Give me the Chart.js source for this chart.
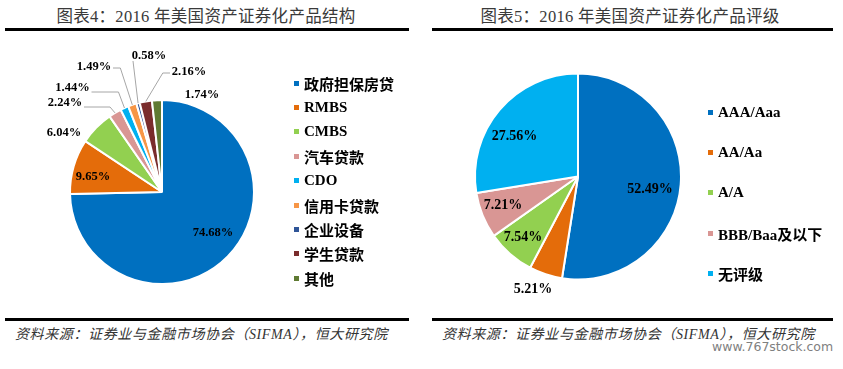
<!DOCTYPE html>
<html>
<head>
<meta charset="utf-8">
<script src="https://cdn.jsdelivr.net/npm/chart.js@4.4.1/dist/chart.umd.min.js"></script>
<style>
  body { margin: 0; background: #fff; }
  #page { position: relative; width: 843px; height: 369px; overflow: hidden; }
  .title { position: absolute; top: 8px; height: 18px; line-height: 18px; text-align: center;
           font-family: "Liberation Serif", "Noto Sans CJK SC", serif; font-size: 16.5px; color: #3a3a3a; letter-spacing: 0.3px; }
  .rule { position: absolute; height: 3px; background: #000; }
  .source { position: absolute; top: 327px; line-height: 16px; font-size: 14px; letter-spacing: 0.62px;
            font-family: "Liberation Serif", "Noto Sans CJK SC", serif; font-style: italic; color: #333; white-space: nowrap; }
  .mark { position: absolute; left: 712px; top: 339px; font-family: "DejaVu Sans", sans-serif; font-size: 12.5px; color: #808080; }
  canvas { position: absolute; }
  ul.legend { position: absolute; margin: 0; padding: 0; list-style: none;
              font-family: "Liberation Serif", "Noto Sans CJK SC", serif; font-weight: bold; font-size: 15px; color: #000; }
  ul.legend li { display: flex; align-items: center; white-space: nowrap; }
  ul.legend li span.box { display: inline-block; width: 5px; height: 5px; margin-right: 5px; }
</style>
</head>
<body>
<div id="page">
  <div class="title" style="left:0;width:412px;">图表4：2016 年美国资产证券化产品结构</div>
  <div class="title" style="left:430px;width:400px;">图表5：2016 年美国资产证券化产品评级</div>
  <div class="rule" style="left:5px;top:28px;width:404px;"></div>
  <div class="rule" style="left:432px;top:28px;width:401px;"></div>
  <div class="rule" style="left:5px;top:318px;width:404px;"></div>
  <div class="rule" style="left:432px;top:318px;width:401px;"></div>
  <div class="source" style="left:15px;">资料来源：证券业与金融市场协会（SIFMA），恒大研究院</div>
  <div class="source" style="left:442px;">资料来源：证券业与金融市场协会（SIFMA），恒大研究院</div>
  <div class="mark">www.767stock.com</div>

  <canvas id="structChart" width="420" height="284" style="left:0;top:36px;"></canvas>
  <canvas id="ratingChart" width="418" height="284" style="left:425px;top:36px;"></canvas>
  <ul class="legend" id="structLegend" style="left:294px;top:71px;"></ul>
  <ul class="legend" id="ratingLegend" style="left:708px;top:92px;"></ul>
</div>

<script>
// chart 4: product structure
const structLabels = ['政府担保房贷', 'RMBS', 'CMBS', '汽车贷款', 'CDO', '信用卡贷款', '企业设备', '学生贷款', '其他'];
const structValues = [74.68, 9.65, 6.04, 2.24, 1.44, 1.49, 0.58, 2.16, 1.74];
const structColors = ['#0070C0', '#E46C0A', '#92D050', '#D99694', '#00B0F0', '#F79646', '#2F5597', '#7A2C2C', '#5F7A32'];

// chart 5: ratings
const ratingLabels = ['AAA/Aaa', 'AA/Aa', 'A/A', 'BBB/Baa及以下', '无评级'];
const ratingValues = [52.49, 5.21, 7.54, 7.21, 27.56];
const ratingColors = ['#0070C0', '#E46C0A', '#92D050', '#D99694', '#00B0F0'];

// where each % label sits, relative to the pie centre (from = leader line start, bend = elbow x vs. slice edge)
const structSpots = [
  {dx: 51, dy: 41},
  {dx: -69, dy: -15},
  {dx: -98, dy: -59},
  {dx: -97, dy: -89, from: [19, 4], bend: -5},
  {dx: -89.5, dy: -104, from: [19, 4], bend: -6},
  {dx: -68, dy: -125, from: [19, 1], bend: -12},
  {dx: -13, dy: -136, from: [-16, 5]},
  {dx: 27, dy: -120, from: [-19, 1], bend: 17},
  {dx: 40, dy: -97}
];
const ratingSpots = [
  {dx: 72, dy: 12.5},
  {dx: -45, dy: 112.5},
  {dx: -55, dy: 60.5},
  {dx: -75, dy: 28.5},
  {dx: -63.5, dy: -40.5}
];

// draws the percentage labels (and leader lines) from the arc elements
const pctLabels = {
  id: 'pctLabels',
  afterDatasetsDraw(chart, args, opts) {
    const ctx = chart.ctx;
    const meta = chart.getDatasetMeta(0);
    const values = chart.data.datasets[0].data;
    ctx.save();
    ctx.font = opts.font;
    ctx.textAlign = 'center';
    ctx.textBaseline = 'middle';
    meta.data.forEach((arc, i) => {
      const spot = opts.spots[i];
      const tx = arc.x + spot.dx;
      const ty = arc.y + spot.dy;
      if (spot.from) {
        const a = (arc.startAngle + arc.endAngle) / 2;
        const ax = arc.x + Math.cos(a) * arc.outerRadius;
        const ay = arc.y + Math.sin(a) * arc.outerRadius;
        const sx = tx + spot.from[0];
        const sy = ty + spot.from[1];
        ctx.beginPath();
        ctx.moveTo(sx, sy);
        if (spot.bend !== undefined) ctx.lineTo(ax + spot.bend, sy);
        ctx.lineTo(ax, ay);
        ctx.strokeStyle = '#A6A6A6';
        ctx.lineWidth = 1;
        ctx.stroke();
      }
      ctx.fillStyle = '#000';
      ctx.fillText(values[i].toFixed(2) + '%', tx, ty);
    });
    ctx.restore();
  }
};

// html legend, built from the chart's own legend items
function htmlLegend(listId, rowHeight) {
  return {
    id: 'htmlLegend',
    afterUpdate(chart) {
      const ul = document.getElementById(listId);
      ul.innerHTML = '';
      const items = chart.options.plugins.legend.labels.generateLabels(chart);
      items.forEach(item => {
        const li = document.createElement('li');
        li.style.height = rowHeight + 'px';
        const box = document.createElement('span');
        box.className = 'box';
        box.style.background = item.fillStyle;
        li.appendChild(box);
        li.appendChild(document.createTextNode(item.text));
        ul.appendChild(li);
      });
    }
  };
}

function makePie(canvasId, labels, values, colors, radius, padding, spots, labelFont, legend) {
  return new Chart(document.getElementById(canvasId), {
    type: 'pie',
    data: {
      labels: labels,
      datasets: [{
        data: values,
        backgroundColor: colors,
        borderColor: '#fff',
        borderWidth: 2
      }]
    },
    options: {
      responsive: false,
      animation: false,
      radius: radius,
      layout: { padding: padding },
      plugins: {
        legend: { display: false },
        tooltip: { enabled: false },
        pctLabels: { spots: spots, font: labelFont }
      }
    },
    plugins: [pctLabels, legend]
  });
}

makePie('structChart', structLabels, structValues, structColors, 92,
  {left: 0, right: 96, top: 28, bottom: 0}, structSpots,
  'bold 12.5px "Liberation Serif"', htmlLegend('structLegend', 24.4));

makePie('ratingChart', ratingLabels, ratingValues, ratingColors, 103,
  {left: 0, right: 112, top: 0, bottom: 3}, ratingSpots,
  'bold 14px "Liberation Serif"', htmlLegend('ratingLegend', 40.3));
</script>
</body>
</html>
